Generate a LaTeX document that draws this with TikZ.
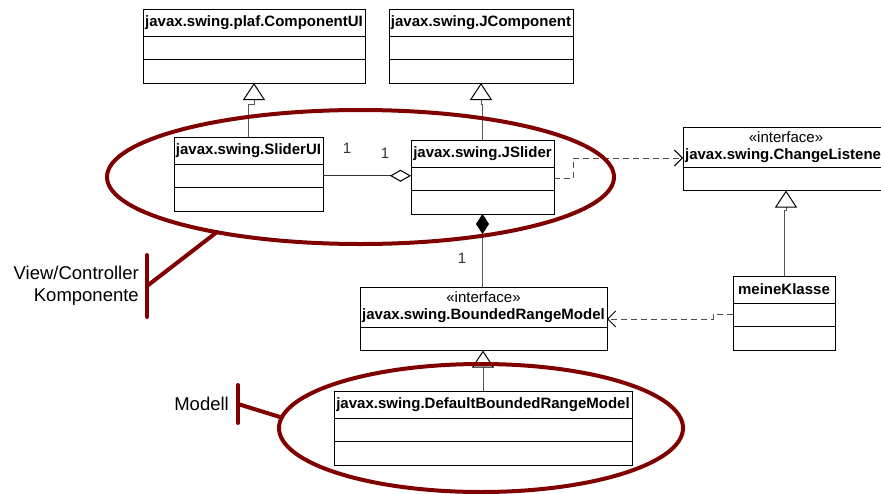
\documentclass[tikz,border=0pt]{standalone}
\usepackage{fontspec}
\setmainfont{Liberation Sans}
\usetikzlibrary{positioning,shapes.geometric,arrows.meta}
\definecolor{dkred}{RGB}{128,0,0}
\tikzset{
  umlhead/.style={draw, line width=1pt, inner xsep=1pt, inner ysep=0pt, outer sep=0pt,
    minimum height=27pt, font=\fontsize{15}{17}\selectfont\bfseries, align=center},
  umlface/.style={umlhead, minimum height=40pt},
  umlcomp/.style={draw, line width=1pt, inner sep=0pt, outer sep=0pt, minimum height=23.5pt},
  mult/.style={font=\fontsize{15}{17}\selectfont, text=black!80, inner sep=0pt},
  remark/.style={font=\fontsize{18.5}{22}\selectfont, align=right, inner sep=0pt, anchor=east},
  gen/.style={draw=black!65, line width=1pt, -{Triangle[open, length=17pt, width=22pt, color=black]}},
  agg/.style={draw=black!80, line width=1pt, -{Diamond[open, length=21pt, width=12pt, color=black]}},
  comp/.style={draw=black!65, line width=1pt, {Diamond[length=20pt, width=13pt, color=black]}-},
  dep/.style={draw=black!70, line width=1pt, dash pattern=on 6pt off 4pt,
    -{Straight Barb[length=8pt, width=16pt, color=black]}},
  lasso/.style={ellipse, draw=dkred, line width=4pt, inner sep=0pt, outer sep=0pt},
  tbar/.style={draw=dkred, line width=4pt, line cap=round}
}
\begin{document}
\begin{tikzpicture}[x=1pt, y=-1pt]
\useasboundingbox (0,0) rectangle (881,493);

\node[umlhead, minimum width=222pt, anchor=north west] (cui) at (143,9) {javax.swing.plaf.ComponentUI};
\node[umlcomp, minimum width=222pt, below=0pt of cui] (cui1) {};
\node[umlcomp, minimum width=222pt, below=0pt of cui1] (cui2) {};

\node[umlhead, minimum width=184pt, anchor=north west] (jc) at (389,9) {javax.swing.JComponent};
\node[umlcomp, minimum width=184pt, below=0pt of jc] (jc1) {};
\node[umlcomp, minimum width=184pt, below=0pt of jc1] (jc2) {};

\node[umlhead, minimum width=149pt, anchor=north west] (slui) at (174,137) {javax.swing.SliderUI};
\node[umlcomp, minimum width=149pt, below=0pt of slui] (slui1) {};
\node[umlcomp, minimum width=149pt, below=0pt of slui1] (slui2) {};

\node[umlhead, minimum width=143pt, anchor=north west] (js) at (411,140) {javax.swing.JSlider};
\node[umlcomp, minimum width=143pt, below=0pt of js] (js1) {};
\node[umlcomp, minimum width=143pt, below=0pt of js1] (js2) {};

\node[umlface, minimum width=206pt, anchor=north west] (cl) at (683,127) {{\mdseries «interface»}\\javax.swing.ChangeListener};
\node[umlcomp, minimum width=206pt, below=0pt of cl] (cl1) {};

\node[umlhead, minimum width=102pt, anchor=north west] (mk) at (733,276) {meineKlasse};
\node[umlcomp, minimum width=102pt, below=0pt of mk] (mk1) {};
\node[umlcomp, minimum width=102pt, below=0pt of mk1] (mk2) {};

\node[umlface, minimum width=247pt, anchor=north west] (brm) at (360,287) {{\mdseries «interface»}\\javax.swing.BoundedRangeModel};
\node[umlcomp, minimum width=247pt, below=0pt of brm] (brm1) {};

\node[umlhead, minimum width=298pt, anchor=north west] (dbrm) at (334,391) {javax.swing.DefaultBoundedRangeModel};
\node[umlcomp, minimum width=298pt, below=0pt of dbrm] (dbrm1) {};
\node[umlcomp, minimum width=298pt, below=0pt of dbrm1] (dbrm2) {};

\draw[gen] (slui.north) -- ++(0,-33) -| (cui2.south);
\draw[gen] (js.north) -- ++(0,-36) -| (jc2.south);
\draw[gen] (mk.north) -- ++(0,-66) -| (cl1.south);
\draw[gen] (dbrm.north) -- (dbrm.north |- brm1.south);

\draw[agg] (slui1.east) -- (slui1.east -| js.west);
\node[mult] (m1) at (347,148) {1};
\node[mult] (m2) at (385,153) {1};

\draw[comp] (js2.south) -- (js2.south |- brm.north);
\node[mult] (m3) at (462,258) {1};

\draw[dep] (js1.east) -- ++(19,0) |- ([yshift=-11pt]cl.west);
\draw[dep] (mk1.west) -- ++(-20,0) |- ([yshift=-12pt]brm.east);

\node[lasso, minimum width=507pt, minimum height=134pt] (vcell) at (360.5,177) {};
\node[lasso, minimum width=404pt, minimum height=128pt] (mell) at (481,428) {};

\node[remark] (vclabel) at (139,286) {View/Controller\\Komponente};
\coordinate (vcbar) at (147,286);
\draw[tbar] ([yshift=31pt]vcbar) -- ([yshift=-31pt]vcbar);
\draw[tbar] (vcbar) -- (vcell.201.5);

\node[remark] (mlabel) at (229,404) {Modell};
\coordinate (mbar) at (238,404);
\draw[tbar] ([yshift=19pt]mbar) -- ([yshift=-19pt]mbar);
\draw[tbar] (mbar) -- (mell.177.7);
\end{tikzpicture}
\end{document}
